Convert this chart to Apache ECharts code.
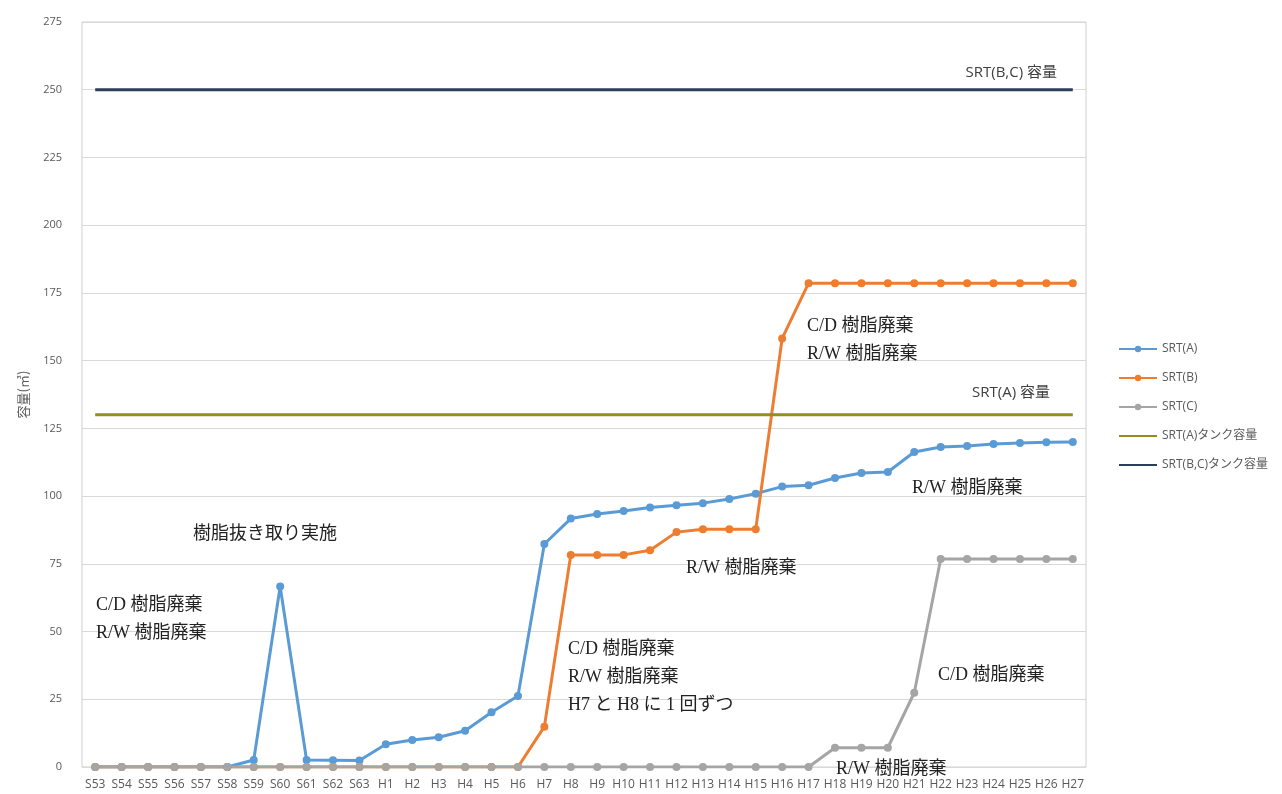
<!DOCTYPE html>
<html><head><meta charset="utf-8">
<script src="https://cdn.jsdelivr.net/npm/echarts@6/dist/echarts.min.js"></script>
<style>html,body{margin:0;padding:0;background:#fff}#c{width:1282px;height:794px}</style>
</head><body><div id="c"></div>
<script>
const categories = ['S53','S54','S55','S56','S57','S58','S59','S60','S61','S62','S63',
  'H1','H2','H3','H4','H5','H6','H7','H8','H9','H10','H11','H12','H13','H14','H15','H16','H17','H18','H19','H20','H21','H22','H23','H24','H25','H26','H27'];
const srtA = [0,0,0,0,0,0,2.6,66.6,2.6,2.5,2.4,
  8.4,10.0,11.0,13.4,20.2,26.2,82.3,91.7,93.4,94.5,95.8,96.6,97.4,98.9,100.9,103.5,104.0,106.7,108.5,108.9,116.3,118.1,118.5,119.2,119.6,119.9,120.0];
const srtB = [0,0,0,0,0,0,0,0,0,0,0,
  0,0,0,0,0,0,14.9,78.3,78.3,78.3,80.0,86.7,87.8,87.8,87.8,158.2,178.6,178.6,178.6,178.6,178.6,178.6,178.6,178.6,178.6,178.6,178.6];
const srtC = [0,0,0,0,0,0,0,0,0,0,0,
  0,0,0,0,0,0,0,0,0,0,0,0,0,0,0,0,0,7.1,7.1,7.1,27.4,76.8,76.8,76.8,76.8,76.8,76.8];
const tankA = categories.map(() => 130);
const tankBC = categories.map(() => 250);
const seriesNames = ['SRT(A)','SRT(B)','SRT(C)','SRT(A)タンク容量','SRT(B,C)タンク容量'];
const yTicks = {min: 0, max: 275, interval: 25};
const annotations = [
  {text: 'SRT(B,C) 容量', x: 1057, y: 59, align: 'right', sans: true},
  {text: 'SRT(A) 容量', x: 1050, y: 379, align: 'right', sans: true},
  {text: 'C/D 樹脂廃棄\nR/W 樹脂廃棄', x: 807, y: 312},
  {text: 'R/W 樹脂廃棄', x: 912, y: 474},
  {text: '樹脂抜き取り実施', x: 193, y: 520},
  {text: 'R/W 樹脂廃棄', x: 686, y: 554},
  {text: 'C/D 樹脂廃棄\nR/W 樹脂廃棄', x: 96, y: 591},
  {text: 'C/D 樹脂廃棄\nR/W 樹脂廃棄\nH7 と H8 に 1 回ずつ', x: 568, y: 635},
  {text: 'C/D 樹脂廃棄', x: 938, y: 661},
  {text: 'R/W 樹脂廃棄', x: 836, y: 755}
];

const colors = ['#5b9bd5','#ed7d31','#a5a5a5','#968d1c','#2c3e5c'];
const chart = echarts.init(document.getElementById('c'));
function dataSeries(i, data) {
  return {name: seriesNames[i], type: 'line', data: data, symbol: 'circle', symbolSize: 8,
    lineStyle: {width: 3, color: colors[i]}, itemStyle: {color: colors[i]}};
}
function tankSeries(i, data) {
  return {name: seriesNames[i], type: 'line', data: data, showSymbol: false, symbol: 'none',
    lineStyle: {width: 3, color: colors[i]}, itemStyle: {color: colors[i]}};
}
chart.setOption({
  animation: false,
  color: colors,
  grid: {left: 82, right: 196, top: 22, bottom: 27, show: true, borderColor: '#cfcfcf', borderWidth: 1},
  legend: {
    orient: 'vertical', left: 1113, top: 338, itemGap: 17, itemWidth: 38, itemHeight: 8,
    textStyle: {fontSize: 12, color: '#595959', fontFamily: '"Open Sans","Noto Sans CJK JP",sans-serif'},
    data: seriesNames.map((n, i) => i < 3 ? {name: n} :
      {name: n, itemStyle: {color: 'rgba(0,0,0,0)', borderWidth: 0, opacity: 0}})
  },
  xAxis: {
    type: 'category', data: categories, boundaryGap: true,
    axisLine: {show: false}, axisTick: {show: false},
    axisLabel: {interval: 0, fontSize: 12, color: '#595959', margin: 12,
      fontFamily: '"Open Sans","Noto Sans",sans-serif'}
  },
  yAxis: {
    type: 'value', min: yTicks.min, max: yTicks.max, interval: yTicks.interval,
    name: '容量(㎥)', nameLocation: 'middle', nameGap: 52, nameRotate: 90,
    nameTextStyle: {fontSize: 13, color: '#595959', fontFamily: '"Noto Sans CJK JP",sans-serif'},
    axisLine: {show: false}, axisTick: {show: false},
    axisLabel: {fontSize: 11, color: '#595959', margin: 20, fontFamily: '"Open Sans","Noto Sans",sans-serif'},
    splitLine: {lineStyle: {color: '#d9d9d9', width: 1}}
  },
  series: [
    dataSeries(0, srtA), dataSeries(1, srtB), dataSeries(2, srtC),
    tankSeries(3, tankA), tankSeries(4, tankBC)
  ],
  graphic: annotations.map(a => ({
    type: 'text', left: a.align === 'right' ? undefined : a.x, right: a.align === 'right' ? 1282 - a.x : undefined,
    top: a.y, z: 10,
    style: {text: a.text, fill: a.sans ? '#404040' : '#222',
      font: a.sans ? '15px "Open Sans","Noto Sans CJK JP",sans-serif' : '18px "Liberation Serif","Noto Sans CJK JP",serif',
      lineHeight: 28}
  }))
});
</script></body></html>
